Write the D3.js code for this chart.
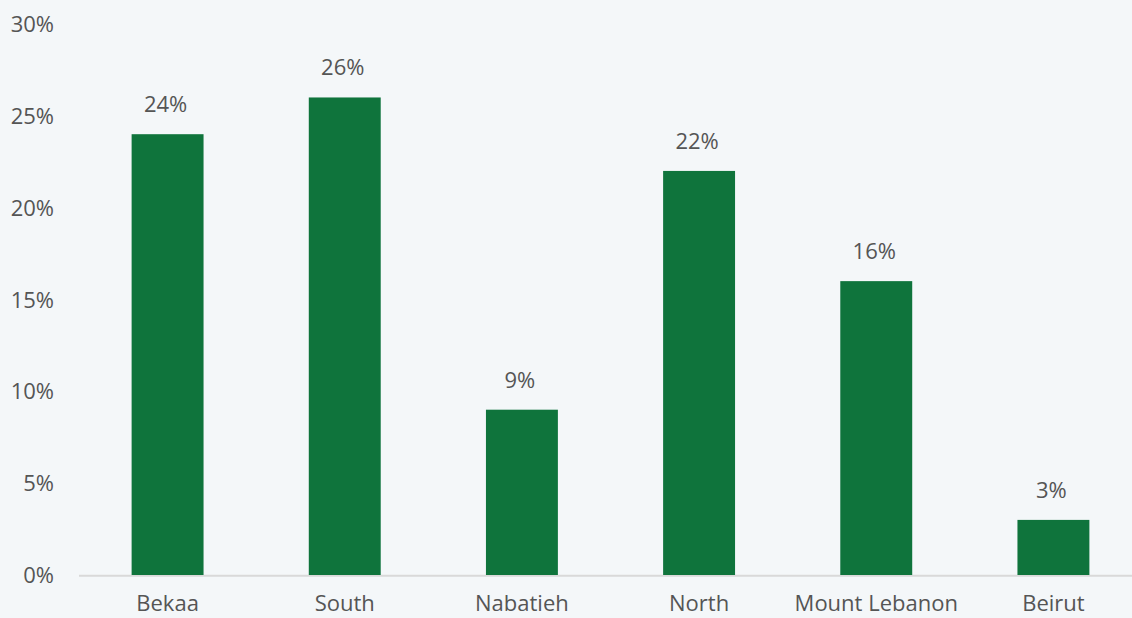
<!DOCTYPE html>
<html>
<head>
<meta charset="utf-8">
<script src="https://cdn.jsdelivr.net/npm/d3@7"></script>
<style>
  html, body { margin: 0; padding: 0; background: #f4f7f9; }
  svg { display: block; }
  text { font-family: "Open Sans", sans-serif; fill: #555555; }
</style>
</head>
<body>
<svg id="chart" width="1132" height="618"></svg>
<script>
// Share of respondents by governorate
const regions = ["Bekaa", "South", "Nabatieh", "North", "Mount Lebanon", "Beirut"];
const shares = [24, 26, 9, 22, 16, 3];
const yTicks = [0, 5, 10, 15, 20, 25, 30];

const svg = d3.select("#chart");

const x = d3.scaleBand()
  .domain(regions)
  .range([79, 1142])
  .paddingInner(0.594)
  .paddingOuter(0.297);

const y = d3.scaleLinear()
  .domain([0, 30])
  .range([575, 24]);

const fontSize = 22;

// baseline
svg.append("line")
  .attr("x1", 79).attr("x2", 1142)
  .attr("y1", y(0) + 0.8).attr("y2", y(0) + 0.8)
  .attr("stroke", "#d9d9d9")
  .attr("stroke-width", 2);

// y tick labels
svg.append("g").selectAll("text")
  .data(yTicks)
  .join("text")
  .attr("x", 54)
  .attr("y", d => y(d) + 8)
  .attr("text-anchor", "end")
  .attr("font-size", fontSize)
  .text(d => d + "%");

// bars
svg.append("g").selectAll("rect")
  .data(regions)
  .join("rect")
  .attr("x", d => x(d))
  .attr("width", x.bandwidth())
  .attr("y", (d, i) => y(shares[i]))
  .attr("height", (d, i) => y(0) - y(shares[i]))
  .attr("fill", "#0f743c");

// value labels
svg.append("g").selectAll("text")
  .data(regions)
  .join("text")
  .attr("x", d => x(d) + x.bandwidth() / 2 - 2)
  .attr("y", (d, i) => y(shares[i]) - 22)
  .attr("text-anchor", "middle")
  .attr("font-size", fontSize)
  .text((d, i) => shares[i] + "%");

// category labels
svg.append("g").selectAll("text")
  .data(regions)
  .join("text")
  .attr("x", d => x(d) + x.bandwidth() / 2)
  .attr("y", 611)
  .attr("text-anchor", "middle")
  .attr("font-size", fontSize)
  .text(d => d);
</script>
</body>
</html>
